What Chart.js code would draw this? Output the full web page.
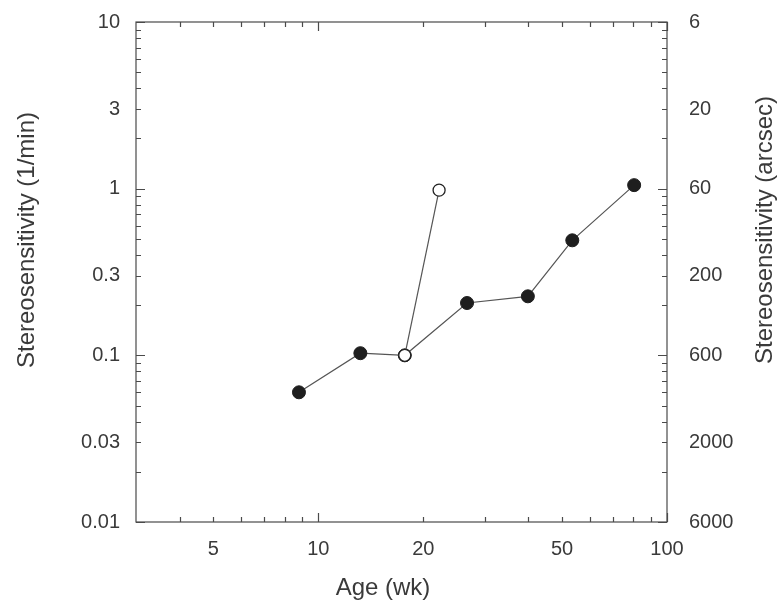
<!DOCTYPE html>
<html>
<head>
<meta charset="utf-8">
<script src="https://cdn.jsdelivr.net/npm/chart.js@4/dist/chart.umd.min.js"></script>
<style>
  body { margin: 0; background: #fff; }
  #wrap { width: 779px; height: 608px; }
</style>
</head>
<body>
<div id="wrap"><canvas id="stereoChart" width="779" height="608"></canvas></div>
<script>
// age in weeks vs stereosensitivity (1/min)
let ageFilled = [8.8, 13.2, 17.7, 26.7, 39.9, 53.5, 80.5];
let sensFilled = [0.060, 0.103, 0.100, 0.206, 0.226, 0.49, 1.05];
let ageOpen = [17.7, 22.2];
let sensOpen = [0.100, 0.98];

let xTicks = [5, 10, 20, 50, 100];
let yTicks = [0.01, 0.03, 0.1, 0.3, 1, 3, 10];
let arcsecLabels = ['6000', '2000', '600', '200', '60', '20', '6'];

let xMinor = [4, 5, 6, 7, 8, 9, 20, 30, 40, 50, 60, 70, 80, 90];
let xMajor = [10, 100];
let yMinor = [0.02, 0.03, 0.04, 0.05, 0.06, 0.07, 0.08, 0.09,
              0.2, 0.3, 0.4, 0.5, 0.6, 0.7, 0.8, 0.9,
              2, 3, 4, 5, 6, 7, 8, 9];
let yMajor = [0.01, 0.1, 1, 10];

const lineCol = '#4a4a4a';
const textCol = '#3a3a3a';
const tickFont = { family: 'Liberation Sans, Arial, sans-serif', size: 20 };
const titleFont = '24px "Liberation Sans", Arial, sans-serif';

// inward ticks on all four sides, the frame and the axis titles
const framePlugin = {
    id: 'frame',
    afterDraw(chart) {
        const ctx = chart.ctx;
        const a = chart.chartArea;
        const xs = chart.scales.x, ys = chart.scales.y;
        ctx.save();
        ctx.strokeStyle = lineCol;
        ctx.lineWidth = 1.2;
        ctx.strokeRect(a.left, a.top, a.right - a.left, a.bottom - a.top);
        ctx.beginPath();
        const xt = (vals, len) => vals.forEach(v => {
            const px = Math.round(xs.getPixelForValue(v)) + 0.5;
            ctx.moveTo(px, a.bottom); ctx.lineTo(px, a.bottom - len);
            ctx.moveTo(px, a.top); ctx.lineTo(px, a.top + len);
        });
        const yt = (vals, len) => vals.forEach(v => {
            const py = Math.round(ys.getPixelForValue(v)) + 0.5;
            ctx.moveTo(a.left, py); ctx.lineTo(a.left + len, py);
            ctx.moveTo(a.right, py); ctx.lineTo(a.right - len, py);
        });
        xt(xMinor, 5); xt(xMajor, 9);
        yt(yMinor, 5); yt(yMajor, 9);
        ctx.stroke();

        ctx.fillStyle = textCol;
        ctx.font = titleFont;
        ctx.textAlign = 'center';
        ctx.textBaseline = 'middle';
        ctx.fillText('Age (wk)', 383, 588);
        ctx.save();
        ctx.translate(27, 240);
        ctx.rotate(-Math.PI / 2);
        ctx.fillText('Stereosensitivity (1/min)', 0, 0);
        ctx.restore();
        ctx.save();
        ctx.translate(765, 230);
        ctx.rotate(-Math.PI / 2);
        ctx.fillText('Stereosensitivity (arcsec)', 0, 0);
        ctx.restore();
        ctx.restore();
    }
};

let stereoChart = new Chart(document.querySelector('#stereoChart'), {
    type: 'line',
    data: {
        datasets: [{
            label: 'open',
            data: ageOpen.map((a, i) => ({x: a, y: sensOpen[i]})),
            borderColor: '#555',
            borderWidth: 1.2,
            pointRadius: 6,
            pointBackgroundColor: '#fff',
            pointBorderColor: '#222',
            pointBorderWidth: 1.3,
            order: 0
        }, {
            label: 'filled',
            data: ageFilled.map((a, i) => ({x: a, y: sensFilled[i]})),
            borderColor: '#555',
            borderWidth: 1.2,
            pointRadius: 6.5,
            pointBackgroundColor: '#1e1e1e',
            pointBorderColor: '#1e1e1e',
            pointBorderWidth: 1,
            order: 1
        }]
    },
    options: {
        responsive: false,
        animation: false,
        layout: { padding: { top: 22, left: 0, right: 0, bottom: 0 } },
        plugins: { legend: { display: false }, tooltip: { enabled: false } },
        scales: {
            x: {
                type: 'logarithmic',
                min: 3, max: 100,
                afterBuildTicks: s => { s.ticks = xTicks.map(v => ({value: v})); },
                afterFit: s => { s.height = 86; s.paddingLeft = 0; s.paddingRight = 0; },
                grid: { display: false, drawTicks: false },
                border: { display: false },
                ticks: { color: textCol, font: tickFont, padding: 15, maxRotation: 0,
                         callback: v => String(v) }
            },
            y: {
                type: 'logarithmic',
                position: 'left',
                min: 0.01, max: 10,
                afterBuildTicks: s => { s.ticks = yTicks.map(v => ({value: v})); },
                afterFit: s => { s.width = 136; s.paddingTop = 0; s.paddingBottom = 0; },
                grid: { display: false, drawTicks: false },
                border: { display: false },
                ticks: { color: textCol, font: tickFont, padding: 16,
                         callback: v => String(v) }
            },
            yR: {
                type: 'logarithmic',
                position: 'right',
                min: 0.01, max: 10,
                afterBuildTicks: s => { s.ticks = yTicks.map(v => ({value: v})); },
                afterFit: s => { s.width = 112; s.paddingTop = 0; s.paddingBottom = 0; },
                grid: { display: false, drawTicks: false },
                border: { display: false },
                ticks: { color: textCol, font: tickFont, padding: 22,
                         callback: (v, i) => arcsecLabels[i] }
            }
        }
    },
    plugins: [framePlugin]
});
</script>
</body>
</html>
